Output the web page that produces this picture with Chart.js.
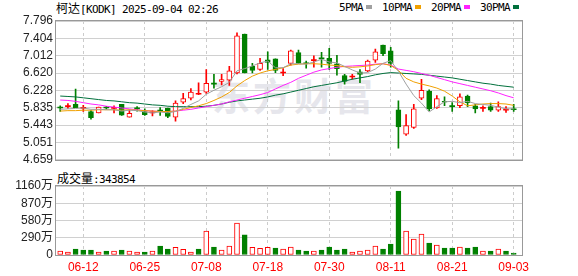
<!DOCTYPE html>
<html>
<head>
<meta charset="utf-8">
<script src="https://cdn.jsdelivr.net/npm/chart.js@4"></script>
<style>
body { margin: 0; background: #fff; width: 578px; height: 276px; overflow: hidden; position: relative; }
.t { position: absolute; font-size: 11px; line-height: 14px; color: #000; white-space: nowrap;
     font-family: "DejaVu Sans Mono", "Noto Sans CJK SC", monospace; letter-spacing: -0.62px; }
.t .cj { font-family: "Noto Sans CJK SC"; font-size: 12px; letter-spacing: 0; }
canvas { position: absolute; left: 0; }
#wm { position: absolute; left: 212px; top: 66px; font: bold 38px "Noto Sans CJK SC"; color: #e6e6ec; letter-spacing: 3px; }
.sq { display: inline-block; width: 6px; height: 4px; margin: 0 10px 0 3px; vertical-align: 2px; }
</style>
</head>
<body>
<div id="wm">东方财富</div>
<div class="t" style="left:56px;top:1px"><span class="cj">柯达</span>[KODK] 2025-09-04 02:26</div>
<div class="t" id="legend" style="left:339px;top:1px"></div>
<div class="t" style="left:57px;top:171px"><span class="cj">成交量</span>:343854</div>
<canvas id="kline" width="578" height="170" style="top:0"></canvas>
<canvas id="vol" width="578" height="106" style="top:170px"></canvas>
<script>
const dates = ['06-09','06-10','06-11','06-12','06-13','06-16','06-17','06-18','06-20','06-23',
    '06-24','06-25','06-26','06-27','06-30','07-01','07-02','07-03','07-07','07-08',
    '07-09','07-10','07-11','07-14','07-15','07-16','07-17','07-18','07-21','07-22',
    '07-23','07-24','07-25','07-28','07-29','07-30','07-31','08-01','08-04','08-05',
    '08-06','08-07','08-08','08-11','08-12','08-13','08-14','08-15','08-18','08-19',
    '08-20','08-21','08-22','08-25','08-26','08-27','08-28','08-29','09-02','09-03'];
const tickIdx = [3, 11, 19, 27, 35, 43, 51, 59];

const openP = [5.84,5.86,5.91,5.82,5.75,5.72,5.84,5.82,5.91,5.62,
    5.82,5.75,5.72,5.77,5.82,5.62,5.96,6.05,6.14,6.19,
    6.38,6.43,6.46,6.62,7.50,6.77,6.70,6.92,6.94,6.62,
    6.84,7.08,6.84,6.90,6.95,6.95,6.83,6.56,6.53,6.65,
    6.67,6.91,7.25,7.12,5.79,5.24,5.39,6.05,6.21,5.83,
    5.98,5.87,5.88,6.10,5.88,5.82,5.86,5.78,5.78,5.80];
const closeP = [5.83,5.87,5.84,5.83,5.61,5.85,5.83,5.83,5.67,5.71,
    5.81,5.68,5.73,5.76,5.64,5.94,6.04,6.19,6.15,6.39,
    6.37,6.47,6.67,7.46,6.62,6.68,6.84,6.86,6.68,6.63,
    7.12,6.84,6.83,6.91,6.94,6.84,6.72,6.43,6.54,6.59,
    6.89,7.10,7.06,6.84,5.40,5.43,5.81,6.23,5.81,6.04,
    5.96,5.86,6.08,5.95,5.81,5.83,5.78,5.86,5.79,5.79];
const highP = [5.88,5.93,6.26,5.89,5.77,5.85,5.87,5.88,5.91,5.79,
    5.86,5.81,5.77,5.84,5.83,5.99,6.16,6.27,6.40,6.70,
    6.59,6.59,6.77,7.53,7.50,6.84,6.95,7.10,6.94,6.72,
    7.14,7.14,6.89,7.01,7.09,7.18,7.02,6.59,6.59,6.70,
    6.91,7.16,7.25,7.20,5.99,5.68,5.91,6.48,6.24,6.11,
    6.08,5.95,6.15,6.12,5.91,5.88,5.94,5.97,5.86,5.91];
const lowP = [5.75,5.82,5.84,5.75,5.58,5.72,5.80,5.72,5.66,5.62,
    5.76,5.66,5.65,5.66,5.61,5.53,5.93,6.01,6.13,6.16,
    6.28,6.35,6.34,6.60,6.62,6.62,6.68,6.70,6.63,6.56,
    6.80,6.84,6.73,6.75,6.75,6.70,6.57,6.37,6.48,6.40,
    6.65,6.86,7.01,6.75,4.92,5.21,5.37,6.02,5.77,5.82,
    5.88,5.75,5.84,5.86,5.72,5.75,5.75,5.75,5.73,5.75];

const ma5 = [5.80,5.81,5.82,5.83,5.80,5.80,5.79,5.79,5.76,5.78,
    5.77,5.74,5.72,5.74,5.72,5.75,5.82,5.91,5.99,6.14,
    6.23,6.31,6.41,6.67,6.72,6.78,6.85,6.89,6.74,6.74,
    6.83,6.83,6.82,6.87,6.93,6.87,6.85,6.77,6.69,6.62,
    6.63,6.71,6.84,6.90,6.66,6.37,6.11,5.94,5.74,5.86,
    5.97,5.98,5.95,5.98,5.93,5.91,5.89,5.85,5.81,5.81];
const ma10 = [5.76,5.77,5.77,5.78,5.78,5.79,5.79,5.79,5.78,5.79,
    5.78,5.77,5.76,5.75,5.75,5.76,5.80,5.84,5.88,5.93,
    6.00,6.08,6.18,6.33,6.45,6.55,6.62,6.67,6.70,6.74,
    6.80,6.82,6.83,6.83,6.82,6.80,6.79,6.76,6.75,6.76,
    6.78,6.81,6.83,6.79,6.68,6.50,6.42,6.37,6.33,6.28,
    6.21,6.10,5.97,5.88,5.90,5.92,5.93,5.93,5.92,5.89];
const ma20 = [6.01,6.00,5.98,5.95,5.92,5.90,5.87,5.85,5.83,5.81,
    5.79,5.77,5.76,5.75,5.75,5.76,5.78,5.80,5.83,5.86,
    5.89,5.92,5.97,6.01,6.05,6.09,6.13,6.18,6.26,6.34,
    6.41,6.50,6.57,6.64,6.69,6.72,6.75,6.77,6.78,6.79,
    6.80,6.82,6.83,6.80,6.71,6.68,6.65,6.61,6.57,6.52,
    6.47,6.42,6.38,6.34,6.30,6.26,6.22,6.17,6.11,6.06];
const ma30 = [6.10,6.09,6.08,6.06,6.04,6.02,6.00,5.99,5.97,5.95,
    5.94,5.92,5.90,5.89,5.87,5.86,5.86,5.86,5.86,5.87,
    5.89,5.92,5.96,5.99,6.01,6.03,6.05,6.08,6.12,6.15,
    6.19,6.23,6.27,6.31,6.34,6.37,6.40,6.44,6.48,6.51,
    6.54,6.58,6.61,6.63,6.62,6.61,6.60,6.59,6.57,6.55,
    6.53,6.51,6.48,6.45,6.42,6.39,6.37,6.34,6.32,6.30];

// volume in 万 shares, and whether the bar is drawn as an up (red) bar
const volume = [67,50,100,84,84,50,67,67,84,67,
    50,50,67,151,100,128,95,50,100,402,
    134,84,151,536,341,128,112,128,117,100,
    134,84,67,67,84,134,84,100,50,67,
    84,151,100,184,1073,402,268,352,201,168,
    117,117,134,117,134,67,67,100,67,34];
const volUp = [1,1,0,0,0,1,0,1,0,1, 1,0,1,0,0,1,1,1,0,1,
    0,1,1,1,0,1,1,1,0,1, 1,0,0,1,0,0,0,0,1,1,
    1,1,0,0,0,1,1,1,0,1, 0,0,1,0,0,1,0,1,0,0];

const priceTicks = ['4.659','5.051','5.443','5.835','6.228','6.620','7.012','7.404','7.796'];
const volTicks = [0, 290, 580, 870, 1160];
const maNames = ['5PMA', '10PMA', '20PMA', '30PMA'];
const maColors = ['#a0a0a0', '#f0a000', '#ff22ff', '#00703c'];

const UP = '#ff0000', DOWN = '#008000';
const tickFont = { family: "'Liberation Sans', 'Noto Sans CJK SC'", size: 12 };
const idx = dates.map((d, i) => i);
const doji = i => Math.abs(closeP[i] - openP[i]) < 0.015;
const candleColor = i => closeP[i] >= openP[i] ? UP : DOWN;

// legend
const legend = document.getElementById('legend');
maNames.forEach((n, k) => {
    legend.insertAdjacentHTML('beforeend', n + '<span class="sq" style="background:' + maColors[k] + '"></span>');
});

const frame = {
    id: 'frame',
    afterDraw(chart) {
        const a = chart.chartArea, ctx = chart.ctx;
        ctx.save();
        ctx.strokeStyle = '#999';
        ctx.lineWidth = 1;
        ctx.strokeRect(Math.round(a.left) - 0.5, Math.round(a.top) - 0.5,
            Math.round(a.right - a.left) + 1, Math.round(a.bottom - a.top) + 1);
        ctx.restore();
    }
};

function xScale(showLabels) {
    return {
        type: 'linear', min: -0.55, max: 60.08, offset: false,
        afterBuildTicks: s => { s.ticks = tickIdx.map(v => ({ value: v })); },
        afterFit: s => { s.height = showLabels ? 21 : 0; },
        grid: { color: '#cccccc', drawTicks: false, offset: false },
        border: { display: false, dash: [3, 3] },
        ticks: {
            display: showLabels, color: UP, padding: 5, font: tickFont,
            maxRotation: 0, autoSkip: false, callback: v => dates[v]
        }
    };
}

const lines = [ma5, ma10, ma20, ma30].map((arr, k) => ({
    type: 'line',
    data: arr.map((v, i) => ({ x: i, y: v })),
    borderColor: maColors[k],
    borderWidth: 1,
    pointRadius: 0,
    order: 0
}));

new Chart(document.getElementById('kline'), {
    type: 'bar',
    data: {
        datasets: [
            ...lines,
            {
                data: idx.map(i => ({ x: i, y: [openP[i], closeP[i]] })),
                backgroundColor: idx.map(i => (closeP[i] >= openP[i] && !doji(i)) ? '#ffffff' : candleColor(i)),
                borderColor: idx.map(candleColor),
                borderWidth: idx.map(i => doji(i) ? 0 : 1),
                borderSkipped: false,
                barThickness: 5,
                minBarLength: 1,
                grouped: false,
                order: 1
            },
            {
                data: idx.map(i => ({ x: i, y: [lowP[i], highP[i]] })),
                backgroundColor: idx.map(candleColor),
                barThickness: 1,
                grouped: false,
                order: 2
            }
        ]
    },
    options: {
        responsive: false,
        animation: false,
        devicePixelRatio: 1,
        layout: { padding: { top: 21, bottom: 6, left: 0, right: 56 } },
        plugins: { legend: { display: false }, tooltip: { enabled: false } },
        scales: {
            x: xScale(false),
            y: {
                min: 4.659, max: 7.796,
                afterBuildTicks: s => { s.ticks = priceTicks.map(t => ({ value: parseFloat(t) })); },
                afterFit: s => { s.width = 56; },
                grid: { color: '#d0d0d0', drawTicks: false },
                border: { display: false },
                ticks: { padding: 3, color: '#222', font: tickFont, autoSkip: false, callback: (v, i) => priceTicks[i] }
            }
        }
    },
    plugins: [frame]
});

new Chart(document.getElementById('vol'), {
    type: 'bar',
    data: {
        datasets: [{
            data: idx.map(i => ({ x: i, y: volume[i] })),
            backgroundColor: idx.map(i => volUp[i] ? '#ffffff' : DOWN),
            borderColor: idx.map(i => volUp[i] ? UP : DOWN),
            borderWidth: 1,
            borderSkipped: false,
            barThickness: 5,
            grouped: false
        }]
    },
    options: {
        responsive: false,
        animation: false,
        devicePixelRatio: 1,
        layout: { padding: { top: 16, bottom: 0, left: 0, right: 56 } },
        plugins: { legend: { display: false }, tooltip: { enabled: false } },
        scales: {
            x: xScale(true),
            y: {
                min: 0, max: 1160,
                afterBuildTicks: s => { s.ticks = volTicks.map(v => ({ value: v })); },
                afterFit: s => { s.width = 56; },
                grid: { color: '#d0d0d0', drawTicks: false },
                border: { display: false },
                ticks: { padding: 3, color: '#222', font: tickFont, autoSkip: false, callback: v => v === 0 ? '0' : v + '万' }
            }
        }
    },
    plugins: [frame]
});
</script>
</body>
</html>
